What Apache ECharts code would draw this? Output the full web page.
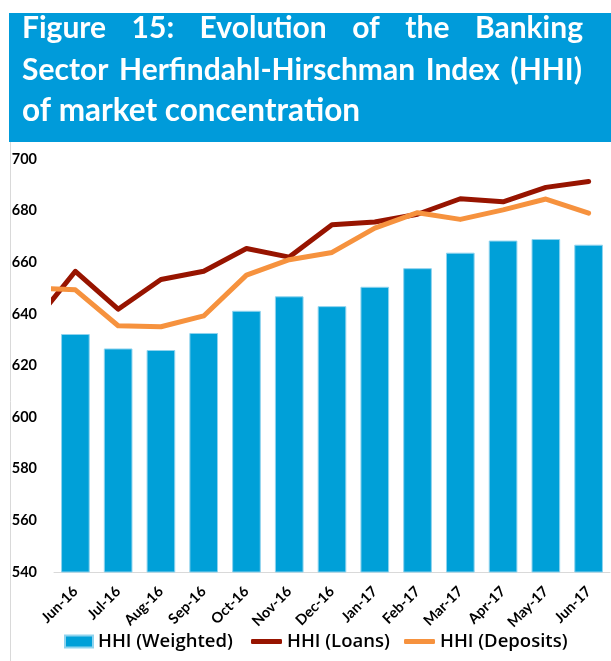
<!DOCTYPE html>
<html>
<head>
<meta charset="utf-8">
<script src="https://cdn.jsdelivr.net/npm/echarts@6/dist/echarts.min.js"></script>
<style>
  html, body { margin: 0; padding: 0; background: #fff; }
  #chart { width: 611px; height: 661px; }
</style>
</head>
<body>
<div id="chart"></div>
<script>
// months on the bar axis
const months = ['Jun-16', 'Jul-16', 'Aug-16', 'Sep-16', 'Oct-16', 'Nov-16', 'Dec-16',
  'Jan-17', 'Feb-17', 'Mar-17', 'Apr-17', 'May-17', 'Jun-17'];

const hhiWeighted = [632.2, 626.6, 626.0, 632.6, 641.2, 646.8, 643.0, 650.5, 657.7, 663.7, 668.4, 669.0, 666.8];

// line series start one month earlier (May-16), clipped at the plot edge
const lineMonths = ['May-16'].concat(months);
const hhiLoans = [636, 656.5, 641.8, 653.3, 656.5, 665.3, 662.0, 674.5, 675.6, 678.6, 684.6, 683.4, 689.0, 691.3];
const hhiDeposits = [650, 649.3, 635.4, 635.0, 639.2, 655.0, 661.0, 663.8, 673.2, 679.2, 676.6, 680.3, 684.5, 679.0];

const yTicks = { min: 540, max: 700, step: 20 };

const titleLines = [
  'Figure 15: Evolution of the Banking',
  'Sector Herfindahl-Hirschman Index (HHI)',
  'of market concentration'
];

const BLUE = '#00a0d8';
const LOANS = '#971400';
const DEPOSITS = '#f6923e';

// index of a line point on the bar axis (May-16 -> -1)
function toXY(values) {
  return values.map((v, i) => [i - 1, v]);
}

// spread words of a title line across a given width
const measure = document.createElement('canvas').getContext('2d');
function justifiedWords(text, left, right, y, font) {
  measure.font = 'bold ' + font.size + 'px ' + font.family;
  const words = text.split(' ');
  const widths = words.map(w => measure.measureText(w).width);
  const total = widths.reduce((a, b) => a + b, 0);
  const gap = (right - left - total) / (words.length - 1);
  let x = left;
  return words.map((w, i) => {
    const el = {
      type: 'text', x: x, y: y,
      style: {
        text: w, fill: '#fff', font: 'bold ' + font.size + 'px ' + font.family,
        verticalAlign: 'middle'
      }
    };
    x += widths[i] + gap;
    return el;
  });
}

const titleFont = { size: 30, family: 'Lato' };
const graphic = [
  { type: 'rect', shape: { x: 9, y: 13, width: 602, height: 129 }, style: { fill: '#009bda' } },
  { type: 'line', shape: { x1: 10.5, y1: 142, x2: 10.5, y2: 661 }, style: { stroke: '#d9d9d9', lineWidth: 1 } }
].concat(
  justifiedWords(titleLines[0], 22, 583, 28, titleFont),
  justifiedWords(titleLines[1], 22, 582, 70, titleFont),
  [{
    type: 'text', x: 22, y: 111,
    style: { text: titleLines[2], fill: '#fff', font: 'bold 31.5px Lato', verticalAlign: 'middle' }
  }]
);

const legendText = { fontFamily: 'Open Sans', fontSize: 18.5, fontWeight: 600, color: '#000' };

const option = {
  animation: false,
  backgroundColor: '#fff',
  graphic: graphic,
  grid: { left: 54, right: 1, top: 159, bottom: 89, containLabel: false },
  legend: [
    {
      data: ['HHI (Weighted)'], left: 64, top: 632, padding: 0, icon: 'rect',
      itemWidth: 28, itemHeight: 12, textStyle: legendText
    },
    {
      data: ['HHI (Loans)'], left: 251, top: 632, padding: 0, icon: 'roundRect',
      itemWidth: 31, itemHeight: 5, textStyle: legendText
    },
    {
      data: ['HHI (Deposits)'], left: 404, top: 632, padding: 0, icon: 'roundRect',
      itemWidth: 31, itemHeight: 5, textStyle: legendText
    }
  ],
  xAxis: [
    {
      type: 'category',
      data: months,
      axisLine: { lineStyle: { color: '#d9d9d9', width: 1 } },
      axisTick: { show: false },
      axisLabel: {
        rotate: 45, margin: 17, interval: 0,
        fontFamily: 'Lato', fontWeight: 'bold', fontSize: 14.5, color: '#000'
      }
    },
    {
      type: 'value', min: -0.5, max: 12.5, show: false
    }
  ],
  yAxis: {
    type: 'value',
    min: yTicks.min, max: yTicks.max, interval: yTicks.step,
    axisLine: { show: false },
    axisTick: { show: false },
    splitLine: { show: false },
    axisLabel: { margin: 17, fontFamily: 'Lato', fontWeight: 'bold', fontSize: 14.5, color: '#000' }
  },
  series: [
    {
      name: 'HHI (Weighted)', type: 'bar', xAxisIndex: 0,
      data: hhiWeighted, barCategoryGap: '33%',
      itemStyle: { color: BLUE, borderColor: '#8fd3ee', borderWidth: 1 }
    },
    {
      name: 'HHI (Loans)', type: 'line', xAxisIndex: 1,
      data: toXY(hhiLoans), showSymbol: false, symbol: 'none', clip: true,
      lineStyle: { color: LOANS, width: 5, cap: 'round', join: 'round' },
      itemStyle: { color: LOANS }
    },
    {
      name: 'HHI (Deposits)', type: 'line', xAxisIndex: 1,
      data: toXY(hhiDeposits), showSymbol: false, symbol: 'none', clip: true,
      lineStyle: { color: DEPOSITS, width: 5, cap: 'round', join: 'round' },
      itemStyle: { color: DEPOSITS }
    }
  ]
};

const chart = echarts.init(document.getElementById('chart'));
chart.setOption(option);
</script>
</body>
</html>
